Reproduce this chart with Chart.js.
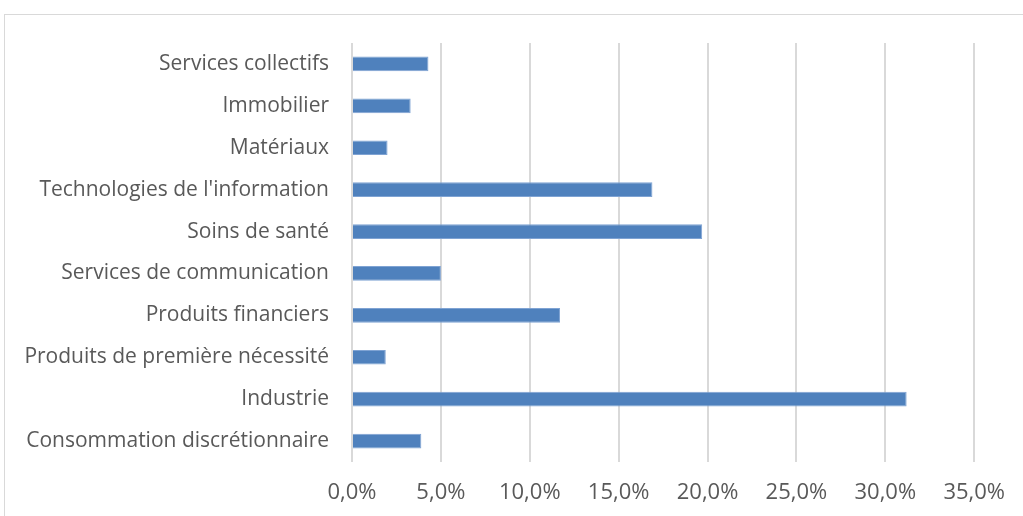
<!DOCTYPE html>
<html>
<head>
<meta charset="utf-8">
<script src="https://cdn.jsdelivr.net/npm/chart.js@4"></script>
<style>
  html, body { margin: 0; padding: 0; background: #fff; }
  #wrap { position: relative; width: 1023px; height: 516px; overflow: hidden; }
  #frame { position: absolute; left: 4px; top: 14px; width: 1100px; height: 600px; border: 1px solid #d9d9d9; box-sizing: border-box; }
  canvas { position: absolute; left: 0; top: 0; }
</style>
</head>
<body>
<div id="wrap">
  <div id="frame"></div>
  <canvas id="chart" width="1023" height="516"></canvas>
</div>
<script>
// Secteurs (de haut en bas)
const sectors = [
  "Services collectifs",
  "Immobilier",
  "Matériaux",
  "Technologies de l'information",
  "Soins de santé",
  "Services de communication",
  "Produits financiers",
  "Produits de première nécessité",
  "Industrie",
  "Consommation discrétionnaire"
];
// Poids en %
const weights = [4.3, 3.3, 2.0, 16.9, 19.7, 5.0, 11.7, 1.9, 31.2, 3.9];
const xTicks = [0, 5, 10, 15, 20, 25, 30, 35];

const txtColor = "#595959";
const gridColor = "#d9d9d9";

function fmtPct(v){ return v.toFixed(1).replace(".", ",") + "%"; }

new Chart(document.getElementById("chart"), {
  type: "bar",
  data: {
    labels: sectors,
    datasets: [{
      data: weights,
      backgroundColor: "#4f81bd",
      borderColor: "#7fa3d3",
      borderWidth: 1,
      borderSkipped: "left",
      categoryPercentage: 1,
      barPercentage: 0.35
    }]
  },
  options: {
    indexAxis: "y",
    responsive: false,
    animation: false,
    layout: { padding: { top: 43, right: 47, left: 0, bottom: 0 } },
    plugins: { legend: { display: false }, tooltip: { enabled: false } },
    scales: {
      x: {
        min: 0, max: 35,
        afterBuildTicks: s => { s.ticks = xTicks.map(v => ({ value: v })); },
        afterFit: s => { s.height = 54; },
        ticks: {
          color: txtColor,
          font: { family: "Open Sans", size: 22 },
          padding: 18,
          callback: v => fmtPct(v)
        },
        grid: { color: gridColor, lineWidth: 2, drawTicks: false },
        border: { display: false }
      },
      y: {
        afterFit: s => { s.width = 352; },
        ticks: {
          color: txtColor,
          font: { family: "Open Sans", size: 21 },
          padding: 23
        },
        grid: { display: false, drawTicks: false },
        border: { display: false }
      }
    }
  }
});
</script>
</body>
</html>
